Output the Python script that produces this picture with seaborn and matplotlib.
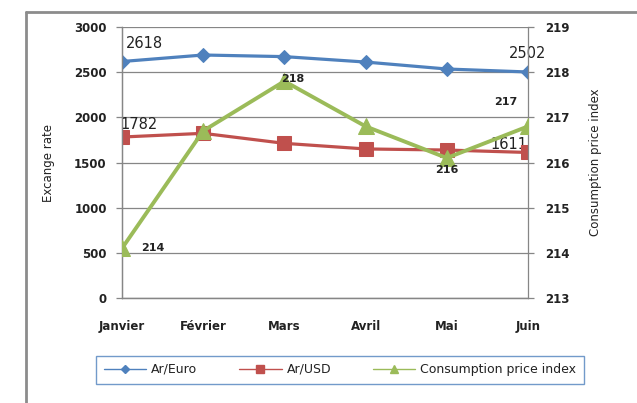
import matplotlib
matplotlib.use("Agg")
import matplotlib.pyplot as plt
from matplotlib.lines import Line2D
import seaborn as sns
import pandas as pd

months = ["Janvier", "Février", "Mars", "Avril", "Mai", "Juin"]
ar_euro = [2618, 2690, 2672, 2612, 2535, 2502]
ar_usd = [1782, 1823, 1712, 1650, 1638, 1611]
cpi = [214.1, 216.7, 217.8, 216.8, 216.1, 216.8]

euro_label_months = {0: "2618", 5: "2502"}
usd_label_months = {0: "1782", 5: "1611"}
cpi_labels = ["214", None, "218", None, "216", "217"]

BLUE = "#4F81BD"
RED = "#C0504D"
GREEN = "#9BBB59"
GRID = "#868686"

sns.set_style("white")
plt.rcParams["font.family"] = ["DejaVu Sans"]

df = pd.DataFrame({"month": months, "Ar/Euro": ar_euro, "Ar/USD": ar_usd, "CPI": cpi})

W, H = 637, 403
fig = plt.figure(figsize=(W / 100, H / 100), dpi=100)
ax = fig.add_axes([122 / W, (H - 298) / H, (528 - 122) / W, (298 - 27) / H])
ax2 = ax.twinx()

sns.lineplot(data=df, x="month", y="Ar/Euro", ax=ax, color=BLUE, lw=2.3,
             marker="D", markersize=7, markeredgecolor=BLUE, sort=False, zorder=4)
sns.lineplot(data=df, x="month", y="Ar/USD", ax=ax, color=RED, lw=2.3,
             marker="s", markersize=10, markeredgecolor=RED, sort=False, zorder=4)
sns.lineplot(data=df, x="month", y="CPI", ax=ax2, color=GREEN, lw=2.8,
             marker="^", markersize=11, markeredgecolor=GREEN, sort=False, zorder=5)

ax.set_xlim(0, 5)
ax.set_ylim(0, 3000)
ax.set_yticks(range(0, 3001, 500))
ax2.set_ylim(213, 219)
ax2.set_yticks(range(213, 220))

ax.grid(axis="y", color=GRID, lw=0.9)
ax.set_axisbelow(True)
for a in (ax, ax2):
    a.spines["top"].set_visible(False)
    for s in ("left", "right", "bottom"):
        a.spines[s].set_color(GRID)
        a.spines[s].set_linewidth(0.9)
    a.tick_params(axis="both", which="both", direction="out", length=4, width=0.9,
                  color=GRID, labelsize=8.5, pad=6)
    for lab in a.get_yticklabels() + a.get_xticklabels():
        lab.set_fontweight("semibold")
        lab.set_color("#222222")
ax.tick_params(axis="x", pad=12)
ax.tick_params(axis="y", pad=7)
ax2.tick_params(axis="y", pad=8)
ax.spines["right"].set_visible(False)

ax.set_xlabel("")
ax.set_ylabel("Excange rate", fontsize=8.5, color="#222222", labelpad=14)
ax2.set_ylabel("Consumption price index", fontsize=8.5, color="#222222",
               rotation=90, labelpad=14)

# value labels
ax.text(0.05, ar_euro[0] + 120, euro_label_months[0], fontsize=10.5, color="#222222",
        ha="left", va="bottom")
ax.text(5, ar_euro[5] + 120, euro_label_months[5], fontsize=10.5, color="#222222",
        ha="center", va="bottom")
ax.text(-0.02, ar_usd[0] + 60, usd_label_months[0], fontsize=10.5,
        color="#222222", ha="left", va="bottom")
ax.text(4.99, ar_usd[5] + 10, usd_label_months[5], fontsize=10.5, color="#222222",
        ha="right", va="bottom")
cpi_offsets = {0: (0.23, 0.0, "left", "center"),
               2: (0.1, 0.05, "center", "center"),
               4: (0.0, -0.26, "center", "center"),
               5: (-0.27, 0.55, "center", "center")}
for i, lab in enumerate(cpi_labels):
    if lab is None:
        continue
    dx, dy, ha, va = cpi_offsets[i]
    ax2.text(i + dx, cpi[i] + dy, lab, fontsize=8, fontweight="semibold", color="#222222",
             ha=ha, va=va, zorder=6)

# legend
handles = [
    Line2D([], [], color=BLUE, lw=1, marker="D", markersize=4.5),
    Line2D([], [], color=RED, lw=1, marker="s", markersize=6),
    Line2D([], [], color=GREEN, lw=1, marker="^", markersize=6),
]
leg = fig.legend(handles, ["Ar/Euro", "Ar/USD", "Consumption price index"],
                 loc="center", bbox_to_anchor=(90 / W, (H - 385) / H, 500 / W, 31 / H),
                 mode="expand", ncol=3, frameon=True, fancybox=False,
                 handlelength=3.4, handletextpad=0.4, borderpad=0.6,
                 prop={"size": 9})
leg.get_frame().set_edgecolor(BLUE)
leg.get_frame().set_linewidth(1.0)
for t in leg.get_texts():
    t.set_color("#222222")

# outer chart frame
fig.add_artist(Line2D([26 / W, 26 / W], [0, (H - 12) / H], color="#8C8C8C", lw=2,
                      transform=fig.transFigure))
fig.add_artist(Line2D([26 / W, 1], [(H - 12) / H, (H - 12) / H], color="#8C8C8C", lw=2,
                      transform=fig.transFigure))

fig.savefig("out.png", dpi=100)
